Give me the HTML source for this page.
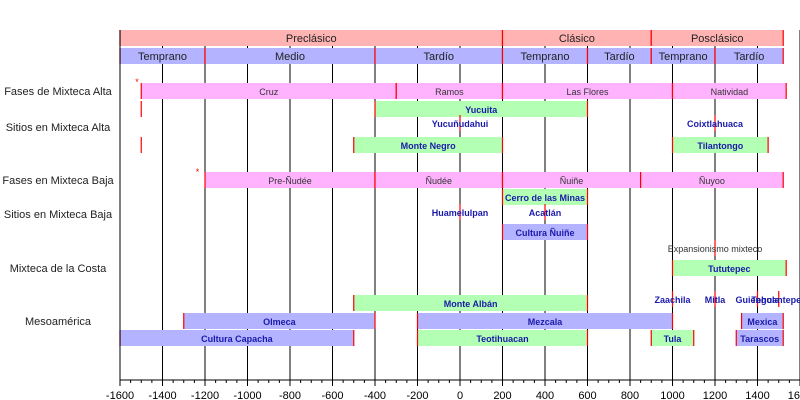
<!DOCTYPE html>
<html><head><meta charset="utf-8"><style>
body{margin:0;background:#fff}
svg{display:block;font-family:"Liberation Sans",sans-serif}
</style></head><body>
<svg id="chart" width="800" height="400" viewBox="0 0 800 400"></svg>
<script>
const eraLabels=["Preclásico","Clásico","Posclásico"];
const eraStart=[-1600,200,900];
const eraEnd=[200,900,1521];
const subLabels=["Temprano","Medio","Tardío","Temprano","Tardío","Temprano","Tardío"];
const subStart=[-1600,-1200,-400,200,600,900,1200];
const subEnd=[-1200,-400,200,600,900,1200,1521];
const rowLabels=["Fases de Mixteca Alta","Sitios en Mixteca Alta","Fases en Mixteca Baja","Sitios en Mixteca Baja","Mixteca de la Costa","Mesoamérica"];
// bars: label, start, end, lane, kind
const barLabels=["Cruz","Ramos","Las Flores","Natividad","Yucuita","Monte Negro","Tilantongo","Pre-Ñudée","Ñudée","Ñuiñe","Ñuyoo","Cerro de las Minas","Cultura Ñuiñe","Tututepec","Monte Albán","Olmeca","Mezcala","Mexica","Cultura Capacha","Teotihuacan","Tula","Tarascos"];
const barStart=[-1500,-300,200,1000,-400,-500,1000,-1200,-400,200,850,200,200,1000,-500,-1300,-200,1325,-1600,-200,900,1300];
const barEnd=[-300,200,1000,1535,600,200,1450,-400,200,850,1521,600,600,1535,600,-400,1000,1521,-500,600,1100,1521];
const barLane=["fa","fa","fa","fa","sa1","sa2","sa2","fb","fb","fb","fb","sb1","sb2","co","m1","m2","m2","m2","m3","m3","m3","m3"];
const barKind=["phase","phase","phase","phase","green","green","green","phase","phase","phase","phase","green","blue","green","green","blue","blue","blue","blue","green","green","blue"];
const pointLabels=["Yucuñudahui","Coixtlahuaca","Huamelulpan","Acatlán","Expansionismo mixteco","Zaachila","Mitla","Guiengola","Tehuantepec"];
const pointYear=[0,1200,0,400,1200,1000,1200,1400,1500];
const pointLane=["sa1t","sa1t","sbt","sbt","cot","m1","m1","m1","m1"];
const tickValues=[-1600,-1400,-1200,-1000,-800,-600,-400,-200,0,200,400,600,800,1000,1200,1400,1600];

const laneY={fa:83,sa1:101,sa1t:119,sa2:137,fb:172,sb1:189,sbt:208,sb2:224,cot:244,co:260,m1:295,m2:313,m3:330};
const rowLabelY=[91,127,180,214,268,321];
const colors={phase:"#ffb3ff",green:"#b3ffb3",blue:"#b3b3ff"};
const x=v=>460+v*0.2125;
const svg=document.getElementById('chart');
const NS="http://www.w3.org/2000/svg";
function mk(tag,attrs,parent){const e=document.createElementNS(NS,tag);for(const k in attrs)e.setAttribute(k,attrs[k]);(parent||svg).appendChild(e);return e;}
function txt(s,attrs){const t=mk('text',attrs);t.textContent=s;return t;}
// grid
tickValues.forEach(v=>{const l=mk('line',{x1:x(v),x2:x(v),y1:30,y2:380,stroke:"#000","stroke-width":1});

});
function bar(s,e,y,fill,label,tcolor,bold,fs,name){
 const r=mk('rect',{x:x(s),y:y,width:x(e)-x(s),height:16,fill:fill});
 
 
 mk('line',{x1:x(s),x2:x(s),y1:y,y2:y+16,stroke:"#f00","stroke-width":1.2});
 mk('line',{x1:x(e),x2:x(e),y1:y,y2:y+16,stroke:"#f00","stroke-width":1.2});
 const t=txt(label,{x:(x(s)+x(e))/2,y:y+12,"text-anchor":"middle","font-size":fs,fill:tcolor,"font-weight":bold?"bold":"normal"});
 
 
}
eraLabels.forEach((l,i)=>bar(eraStart[i],eraEnd[i],30,"#ffb3b3",l,"#222",false,11,"era-bar"));
subLabels.forEach((l,i)=>bar(subStart[i],subEnd[i],48,"#b3b3ff",l,"#222",false,11,"subperiod-bar"));
barLabels.forEach((l,i)=>{const k=barKind[i];bar(barStart[i],barEnd[i],laneY[barLane[i]],colors[k],l,k=="phase"?"#333":"#1a1aaa",k!="phase",9,"timeline-bar");});
// red marker ticks at -1500
[101,137].forEach(y=>mk('line',{x1:x(-1500),x2:x(-1500),y1:y,y2:y+16,stroke:"#f00","stroke-width":1.2}));
// stars
[[-1520,80],[-1235,170]].forEach(p=>{const s=txt("*",{x:x(p[0]),y:p[1]+5,"text-anchor":"middle","font-size":9,fill:"#f00"});});
pointLabels.forEach((l,i)=>{const y=laneY[pointLane[i]];
 mk('line',{x1:x(pointYear[i]),x2:x(pointYear[i]),y1:y-4,y2:y+12,stroke:"#f00","stroke-width":1.2});
 const ex=l=="Expansionismo mixteco";
 const t=txt(l,{x:x(pointYear[i]),y:y+8,"text-anchor":"middle","font-size":9,fill:ex?"#333":"#1a1aaa","font-weight":ex?"normal":"bold"});
 
 });
rowLabels.forEach((l,i)=>{const t=txt(l,{x:58,y:rowLabelY[i]+4,"text-anchor":"middle","font-size":11,fill:"#222"});
 
 });
// axis
mk('line',{x1:120,x2:800,y1:380,y2:380,stroke:"#000"});
mk('line',{x1:120,x2:120,y1:30,y2:380,stroke:"#000"});
for(let v=-1600;v<=1600;v+=50){mk('line',{x1:x(v),x2:x(v),y1:380,y2:v%200==0?386:383,stroke:"#000"});}
tickValues.forEach(v=>{const t=txt(String(v),{x:x(v),y:399,"text-anchor":"middle","font-size":11,fill:"#000"});
 
 });
</script>
</body></html>
